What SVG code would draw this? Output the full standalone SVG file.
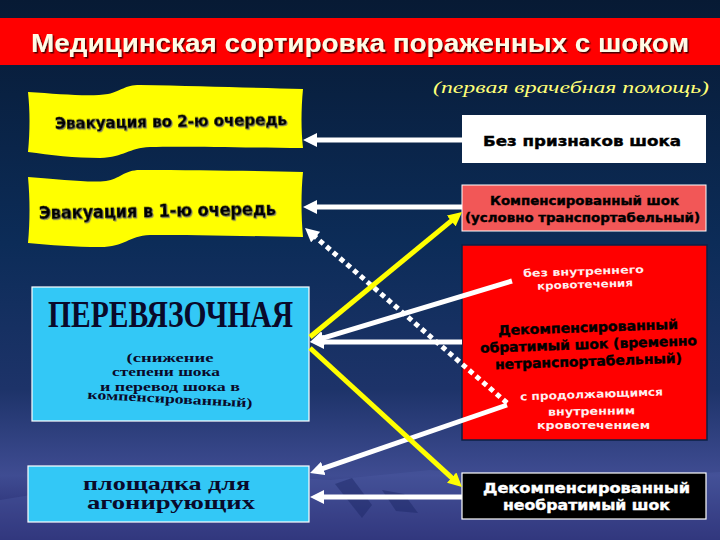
<svg xmlns="http://www.w3.org/2000/svg" width="720" height="540" viewBox="0 0 720 540">
<defs>
<linearGradient id="bg" x1="0" y1="0" x2="0" y2="1">
<stop offset="0" stop-color="#071a34"/>
<stop offset="0.45" stop-color="#0c2c58"/>
<stop offset="0.72" stop-color="#1d3369"/>
<stop offset="0.88" stop-color="#3f4c92"/>
<stop offset="1" stop-color="#23246a"/>
</linearGradient>
<filter id="sh" x="-5%" y="-30%" width="110%" height="160%">
<feDropShadow dx="1.5" dy="1.5" stdDeviation="0.6" flood-color="#3a0000" flood-opacity="0.9"/>
</filter>
<filter id="tsh" x="-5%" y="-30%" width="110%" height="160%">
<feDropShadow dx="1" dy="1" stdDeviation="0.5" flood-color="#777" flood-opacity="0.8"/>
</filter>
<marker id="aw" viewBox="0 0 14 14" markerUnits="userSpaceOnUse" markerWidth="14" markerHeight="14" refX="4" refY="7" orient="auto">
<path d="M0,0 L14,7 L0,14 z" fill="#ffffff"/>
</marker>
<marker id="ay" viewBox="0 0 14 14" markerUnits="userSpaceOnUse" markerWidth="14" markerHeight="14" refX="4" refY="7" orient="auto">
<path d="M0,0 L14,7 L0,14 z" fill="#ffff00"/>
</marker>
<style>
.ban{fill:#ffff00;}
.bt{font-family:"DejaVu Sans","Liberation Sans",Arial,sans-serif;font-weight:bold;fill:#000;stroke:#000;stroke-width:0.5;}
.blue{fill:#33c8f6;stroke:#ffffff;stroke-width:1.2;}
.st{font-family:"Liberation Serif","Times New Roman",serif;font-weight:bold;fill:#0a0a2a;text-anchor:middle;}
.rt{font-family:"DejaVu Sans","Liberation Sans",Arial,sans-serif;font-weight:bold;text-anchor:middle;stroke-width:0.4;}
.wl{stroke:#ffffff;stroke-width:5;fill:none;marker-end:url(#aw);}
.dl{stroke:#ffffff;stroke-width:5;fill:none;stroke-dasharray:5 4;marker-end:url(#aw);}
.yl{stroke:#ffff00;stroke-width:5;fill:none;marker-end:url(#ay);}
</style>
</defs>

<rect x="0" y="0" width="720" height="540" fill="url(#bg)"/>
<polygon points="0,540 0,500 110,482 240,474 330,480 430,470 560,482 720,472 720,540" fill="#4d5da3" opacity="0.35"/>
<polygon points="335,484 352,478 372,505 362,518" fill="#1a2563" opacity="0.45"/>
<polygon points="382,490 404,494 418,513 396,511" fill="#1a2563" opacity="0.45"/>

<g id="title">
<rect x="0" y="18" width="720" height="47" fill="#ff0000"/>
<text x="360" y="52" text-anchor="middle" font-family="'Liberation Sans',Arial,sans-serif" font-weight="bold" font-size="25" fill="#fffbe6" filter="url(#sh)" textLength="658" lengthAdjust="spacingAndGlyphs">Медицинская сортировка пораженных с шоком</text>
</g>

<g id="subtitle">
<text x="571" y="93" text-anchor="middle" font-family="'Liberation Serif','Times New Roman',serif" font-style="italic" font-size="16" fill="#ffff77" textLength="276" lengthAdjust="spacingAndGlyphs">(первая врачебная помощь)</text>
</g>

<g id="evac2">
<path class="ban" d="M28,92 C60,94 90,97 108,94 C122,91 124,85 140,85 C200,86 260,88 303,89 C301,110 301,130 303,148 C250,148 190,146 150,147 C128,148 125,157 100,158 C75,158 50,155 28,152 C30,130 30,112 28,92 Z"/>
<text class="bt" x="171" y="127.5" text-anchor="middle" font-size="16" filter="url(#tsh)" textLength="232" lengthAdjust="spacingAndGlyphs" transform="rotate(-1 171 121)">Эвакуация во 2-ю очередь</text>
</g>

<g id="evac1">
<path class="ban" d="M28,177 C60,179 88,183 106,181 C120,179 124,170 140,170 C200,170 260,171 303,172 C301,192 301,215 303,237 C250,236 190,235 150,235 C128,236 125,247 100,247 C75,247 50,245 28,243 C30,220 30,200 28,177 Z"/>
<text class="bt" x="157.5" y="217" text-anchor="middle" font-size="18" filter="url(#tsh)" textLength="237" lengthAdjust="spacingAndGlyphs" transform="rotate(-1 157 211)">Эвакуация в 1-ю очередь</text>
</g>

<g id="dressing">
<rect class="blue" x="32" y="287" width="277" height="134"/>
<text class="st" x="170.5" y="327" font-size="38" font-weight="normal" textLength="245" lengthAdjust="spacingAndGlyphs">ПЕРЕВЯЗОЧНАЯ</text>
<text class="st" x="170" y="362" font-size="13" textLength="87" lengthAdjust="spacingAndGlyphs">(снижение</text>
<text class="st" x="166" y="376" font-size="13" textLength="108" lengthAdjust="spacingAndGlyphs">степени шока</text>
<text class="st" x="170" y="391" font-size="13" textLength="140" lengthAdjust="spacingAndGlyphs">и перевод шока в</text>
<text class="st" x="170" y="403" font-size="13" textLength="165" lengthAdjust="spacingAndGlyphs" transform="rotate(3 170 398)">компенсированный)</text>
</g>

<g id="agonal">
<rect class="blue" x="28" y="466" width="281" height="56"/>
<text class="st" x="166.5" y="490" font-size="19" textLength="167" lengthAdjust="spacingAndGlyphs">площадка для</text>
<text class="st" x="171" y="509" font-size="19" textLength="168" lengthAdjust="spacingAndGlyphs">агонирующих</text>
</g>

<g id="noshock">
<rect x="462" y="115" width="244" height="48" fill="#ffffff"/>
<text class="rt" x="582" y="146" font-size="14" fill="#000" stroke="#000" textLength="198" lengthAdjust="spacingAndGlyphs">Без признаков шока</text>
</g>

<g id="compensated">
<rect x="462" y="185" width="244" height="46" fill="#f25757" stroke="#ffffff" stroke-width="1"/>
<text class="rt" x="584.5" y="204.5" font-size="12.5" fill="#000" stroke="#000" textLength="189" lengthAdjust="spacingAndGlyphs">Компенсированный шок</text>
<text class="rt" x="582.5" y="221.5" font-size="12.5" fill="#000" stroke="#000" textLength="235" lengthAdjust="spacingAndGlyphs">(условно транспортабельный)</text>
</g>

<g id="decomp-rev">
<rect x="462" y="245" width="245" height="195" fill="#ff0000" stroke="#0b2045" stroke-width="1.5"/>
<text class="rt" x="583.5" y="275" font-size="10.5" fill="#ffeeee" textLength="121" lengthAdjust="spacingAndGlyphs" transform="rotate(-2 583 271)">без внутреннего</text>
<text class="rt" x="585" y="288" font-size="10.5" fill="#ffeeee" textLength="96" lengthAdjust="spacingAndGlyphs" transform="rotate(-2 585 284)">кровотечения</text>
<text class="rt" x="588" y="332" font-size="13.5" fill="#000" stroke="#000" textLength="180" lengthAdjust="spacingAndGlyphs" transform="rotate(-2 588 327)">Декомпенсированный</text>
<text class="rt" x="588.5" y="349" font-size="13.5" fill="#000" stroke="#000" textLength="217" lengthAdjust="spacingAndGlyphs" transform="rotate(-2 588 344)">обратимый шок (временно</text>
<text class="rt" x="588.5" y="366" font-size="13.5" fill="#000" stroke="#000" textLength="187" lengthAdjust="spacingAndGlyphs" transform="rotate(-2 588 361)">нетранспортабельный)</text>
<text class="rt" x="591.5" y="398" font-size="11" fill="#ffeeee" textLength="143" lengthAdjust="spacingAndGlyphs" transform="rotate(-2 591 394)">с продолжающимся</text>
<text class="rt" x="591.5" y="415" font-size="11" fill="#ffeeee" textLength="87" lengthAdjust="spacingAndGlyphs" transform="rotate(-1 591 411)">внутренним</text>
<text class="rt" x="593.5" y="429" font-size="11" fill="#ffeeee" textLength="113" lengthAdjust="spacingAndGlyphs">кровотечением</text>
</g>

<g id="decomp-irrev">
<rect x="462" y="473" width="244" height="46" fill="#000000" stroke="#ffffff" stroke-width="1.2"/>
<text class="rt" x="586.5" y="493" font-size="13.5" fill="#ffffff" stroke="#ffffff" textLength="207" lengthAdjust="spacingAndGlyphs">Декомпенсированный</text>
<text class="rt" x="586.5" y="510" font-size="13.5" fill="#ffffff" stroke="#ffffff" textLength="167" lengthAdjust="spacingAndGlyphs">необратимый шок</text>
</g>

<g id="connectors">
<line class="wl" x1="462" y1="140" x2="313" y2="140"/>
<line class="wl" x1="462" y1="207" x2="313" y2="207"/>
<line class="dl" x1="507" y1="403" x2="312.6" y2="234.5"/>
<line class="wl" x1="512" y1="281" x2="319.6" y2="339.1"/>
<line class="wl" x1="462" y1="342" x2="320" y2="342"/>
<line class="wl" x1="507" y1="405" x2="319.5" y2="469.7"/>
<line class="wl" x1="462" y1="497" x2="320" y2="497"/>
<line class="yl" x1="310" y1="337" x2="454.3" y2="218.4"/>
<line class="yl" x1="310" y1="348" x2="454.6" y2="480.3"/>
</g>
</svg>
